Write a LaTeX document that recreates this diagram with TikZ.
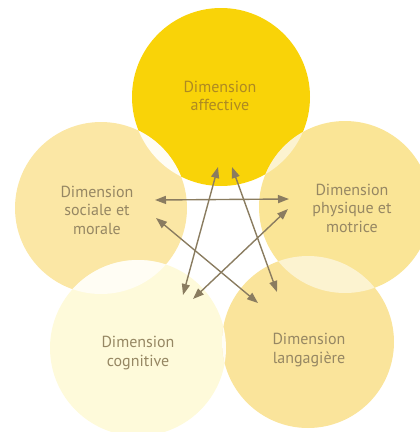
\documentclass[tikz,border=0pt]{standalone}
\usepackage{fontspec}
\setmainfont{PT Sans}
\usetikzlibrary{arrows.meta}
\definecolor{cTop}{HTML}{F9D308}
\definecolor{cSoc}{HTML}{FBE7A5}
\definecolor{cPhy}{HTML}{FAE596}
\definecolor{cCog}{HTML}{FEFADA}
\definecolor{cLan}{HTML}{FAE49B}
\definecolor{lensA}{HTML}{FFFDF4}
\definecolor{lensB}{HTML}{FCF3D0}
\definecolor{txtTop}{HTML}{AE8A22}
\definecolor{txt}{HTML}{968763}
\definecolor{arr}{HTML}{8A7C60}
\begin{document}
\begin{tikzpicture}[x=1pt,y=-1pt,
  lbl/.style={align=center, font=\fontsize{16}{18.5}\selectfont, text=txt, inner sep=0pt},
  link/.style={draw=arr, line width=1.4pt, {Triangle[length=11pt,width=8pt]}-{Triangle[length=11pt,width=8pt]}}]
\useasboundingbox (0,0) rectangle (420,432);
\clip (0,0) rectangle (420,432);
% circles
\coordinate (cA) at (221,97);
\coordinate (cS) at (101,208);
\coordinate (cP) at (345,207);
\coordinate (cC) at (138,348);
\coordinate (cL) at (308,342);
\fill[cTop] (cA) circle[radius=89pt];
\fill[cSoc] (cS) circle[radius=86pt];
\fill[cPhy] (cP) circle[radius=86pt];
\fill[cCog] (cC) circle[radius=88pt];
\fill[cLan] (cL) circle[radius=86pt];
% lenses
\begin{scope}\clip (cA) circle[radius=89pt]; \fill[lensA] (cS) circle[radius=86pt];\end{scope}
\begin{scope}\clip (cA) circle[radius=89pt]; \fill[lensB] (cP) circle[radius=86pt];\end{scope}
\begin{scope}\clip (cS) circle[radius=86pt]; \fill[lensA] (cC) circle[radius=88pt];\end{scope}
\begin{scope}\clip (cP) circle[radius=86pt]; \fill[lensB] (cL) circle[radius=86pt];\end{scope}
\begin{scope}\clip (cC) circle[radius=88pt]; \fill[lensA] (cL) circle[radius=86pt];\end{scope}
% labels
\node[lbl, text=txtTop] (aff) at (220,96) {Dimension\\affective};
\node[lbl] (soc) at (97,210) {Dimension\\sociale et\\morale};
\node[lbl] (phy) at (352,208) {Dimension\\physique et\\motrice};
\node[lbl] (cog) at (138,353) {Dimension\\cognitive};
\node[lbl] (lan) at (309,350) {Dimension\\langagière};
% arrow ends
\coordinate (sH) at (155,200);
\coordinate (pH) at (289,199);
\coordinate (sD) at (156,218);
\coordinate (lD) at (258,303);
\coordinate (aC) at (218,167);
\coordinate (cA2) at (183,295);
\coordinate (aL) at (232,167);
\coordinate (lA) at (277,292);
\coordinate (pD) at (288,209);
\coordinate (cD) at (193,299);
\draw[link] (sH) -- (pH);
\draw[link] (sD) -- (lD);
\draw[link] (aC) -- (cA2);
\draw[link] (aL) -- (lA);
\draw[link] (pD) -- (cD);
\end{tikzpicture}
\end{document}
